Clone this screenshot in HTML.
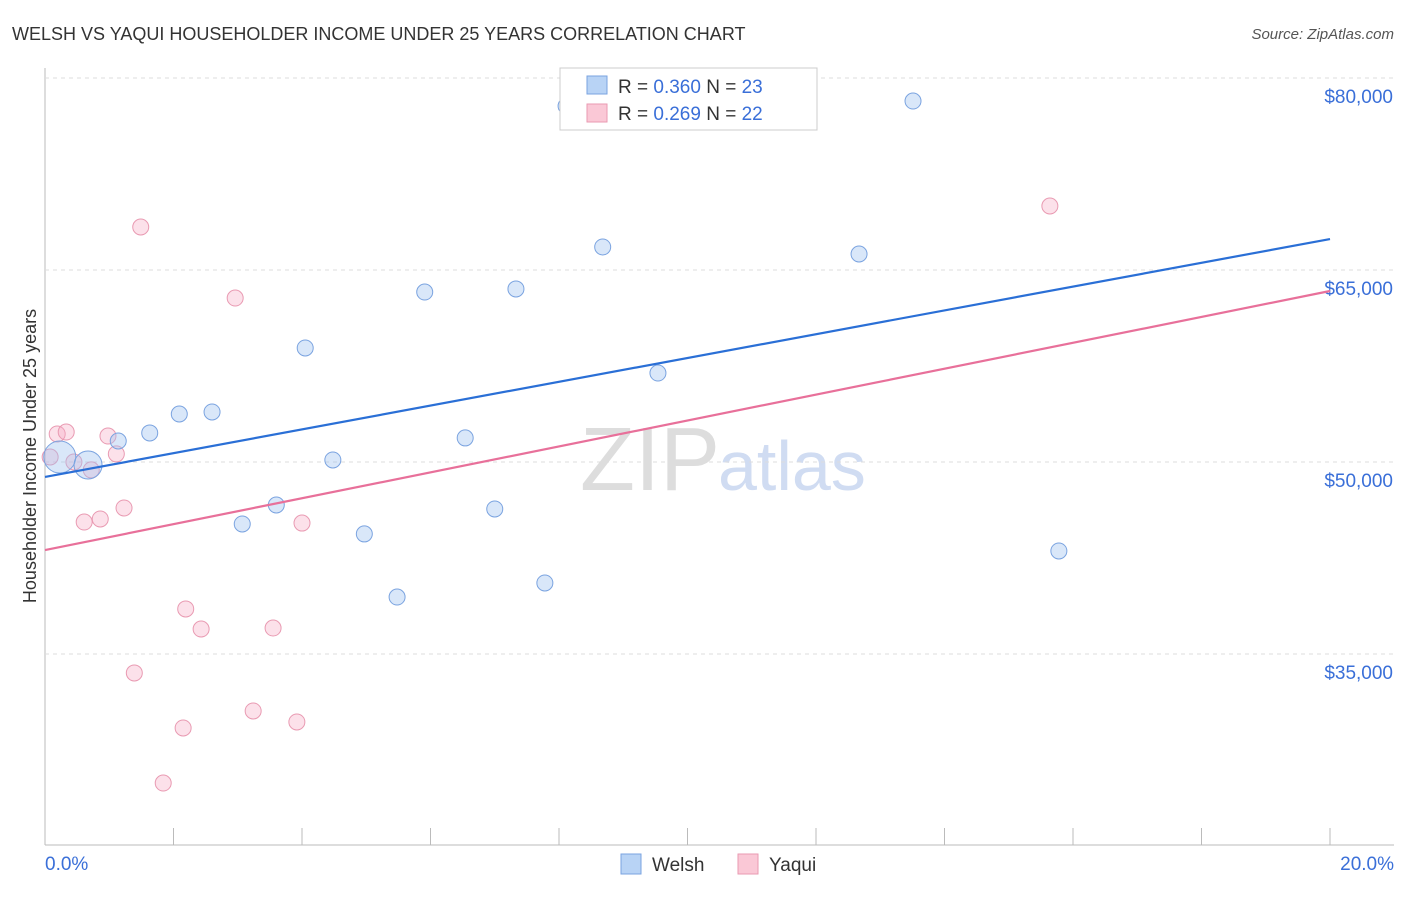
<!DOCTYPE html>
<html><head><meta charset="utf-8"><style>
body{margin:0;background:#fff;font-family:"Liberation Sans",sans-serif;}
svg text{font-family:"Liberation Sans",sans-serif;}
</style></head><body>
<svg width="1406" height="892" id="c">
<text x="12" y="40" font-size="18" fill="#333">WELSH VS YAQUI HOUSEHOLDER INCOME UNDER 25 YEARS CORRELATION CHART</text>
<text x="1394" y="39" font-size="15" fill="#555" text-anchor="end" font-style="italic">Source: ZipAtlas.com</text>
<text x="36" y="456" font-size="18" fill="#333" transform="rotate(-90 36 456)" text-anchor="middle">Householder Income Under 25 years</text>
<text x="720" y="490" font-size="90" fill="#ddd" text-anchor="end" font-family="Liberation Serif">ZIP</text>
<text x="718" y="490" font-size="70" fill="#d0dcf2">atlas</text>
<line x1="45" y1="68" x2="45" y2="845" stroke="#bbb"/>
<line x1="45" y1="845" x2="1394" y2="845" stroke="#bbb"/>
<g id="grid"></g><g id="marks"></g>
<g>
<rect x="560" y="68" width="257" height="62" fill="#fff" stroke="#ccc"/>
<rect x="587" y="76" width="20" height="18" fill="#b8d3f5" stroke="#7aa3e0"/>
<rect x="587" y="104" width="20" height="18" fill="#fac8d6" stroke="#e99ab2"/>
<text x="618" y="93" font-size="19" fill="#333">R = <tspan fill="#3a6fd8">0.360</tspan>   N = <tspan fill="#3a6fd8">23</tspan></text>
<text x="618" y="120" font-size="19" fill="#333">R = <tspan fill="#3a6fd8"> 0.269</tspan>   N = <tspan fill="#3a6fd8">22</tspan></text>
</g>
<g>
<rect x="621" y="854" width="20" height="20" fill="#b8d3f5" stroke="#7aa3e0"/>
<text x="652" y="871" font-size="19" fill="#333">Welsh</text>
<rect x="738" y="854" width="20" height="20" fill="#fac8d6" stroke="#e99ab2"/>
<text x="769" y="871" font-size="19" fill="#333">Yaqui</text>
</g>
<text x="45" y="870" font-size="19" fill="#3a6fd8">0.0%</text>
<text x="1394" y="870" font-size="19" fill="#3a6fd8" text-anchor="end">20.0%</text>
</svg>
<script>
const yTicks=[35000,50000,65000,80000];
const yTickLabels=["$35,000","$50,000","$65,000","$80,000"];
const welshX=[0.23,0.67,1.14,1.63,2.09,2.60,3.07,3.60,4.05,4.48,4.97,5.48,5.91,6.54,7.00,7.33,7.78,8.11,8.68,9.54,12.67,13.51,15.78];
const welshY=[50390,49770,51640,52270,53750,53910,45160,46640,58910,50160,44380,39450,63280,51880,46330,63520,40550,77810,66800,56950,66250,78200,43050];
const welshR=[16,14,8,8,8,8,8,8,8,8,8,8,8,8,8,8,8,8,8,8,8,8,8];
const yaquiX=[0.08,0.19,0.33,0.45,0.61,0.72,0.86,0.98,1.11,1.23,1.39,1.49,1.84,2.15,2.19,2.43,2.96,3.24,3.55,3.92,4.00,15.64];
const yaquiY=[50390,52190,52340,50000,45310,49380,45550,52030,50630,46410,33520,68360,24920,29220,38520,36950,62810,30550,37030,29690,45230,70000];
const welshTrend=[48830,67420];
const yaquiTrend=[43120,63360];
const X=p=>45+p/20*1285, Y=v=>462-(v-50000)*0.0128;
const NS="http://www.w3.org/2000/svg";
const grid=document.getElementById('grid'), marks=document.getElementById('marks');
function mk(tag,attrs,parent){const e=document.createElementNS(NS,tag);for(const k in attrs)e.setAttribute(k,attrs[k]);parent.appendChild(e);return e;}
yTicks.forEach((v,i)=>{
 const l=mk('line',{x1:45,x2:1394,y1:Y(v),y2:Y(v),stroke:'#ddd','stroke-dasharray':'4,4'},grid);
 
 
 const t=mk('text',{x:1393,y:Y(v)+25,'font-size':19,fill:'#3a6fd8','text-anchor':'end'},grid);
 t.textContent=yTickLabels[i];
 
 
});
const gl=mk('line',{x1:45,x2:1394,y1:78,y2:78,stroke:'#ddd','stroke-dasharray':'4,4'},grid);
for(let i=1;i<=10;i++){
 const t=mk('line',{x1:X(i*2),x2:X(i*2),y1:828,y2:845,stroke:'#bbb'},grid);
 
 
}
yaquiX.forEach((x,i)=>{
 const c=mk('circle',{cx:X(x),cy:Y(yaquiY[i]),r:8,fill:'rgba(246,170,195,0.35)',stroke:'#e99ab2','stroke-width':1},marks);
 
 
});
welshX.forEach((x,i)=>{
 const c=mk('circle',{cx:X(x),cy:Y(welshY[i]),r:welshR[i],fill:'rgba(160,195,240,0.4)',stroke:'#7aa3e0','stroke-width':1},marks);
 
 
});
const lw=mk('line',{x1:X(0),y1:Y(welshTrend[0]),x2:X(20),y2:Y(welshTrend[1]),stroke:'#2a6fd6','stroke-width':2.2},marks);


const ly=mk('line',{x1:X(0),y1:Y(yaquiTrend[0]),x2:X(20),y2:Y(yaquiTrend[1]),stroke:'#e8709a','stroke-width':2.2},marks);


</script>
</body></html>
